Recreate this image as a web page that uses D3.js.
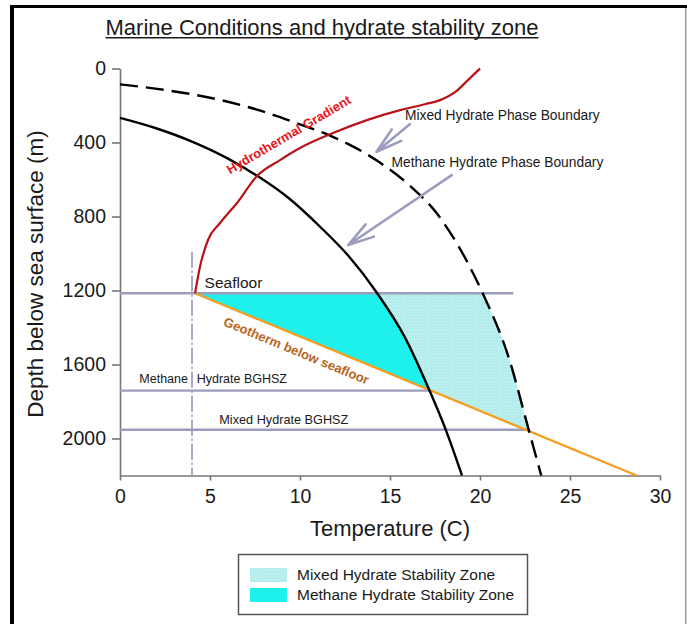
<!DOCTYPE html>
<html>
<head>
<meta charset="utf-8">
<script src="https://cdn.jsdelivr.net/npm/d3@7"></script>
<style>
  html, body { margin: 0; padding: 0; background: #fff; }
  svg { display: block; }
</style>
</head>
<body>
<svg id="chart" width="687" height="624"></svg>
<script>
// ---- data: [temperature (°C), depth below sea surface (m)] ----
const tempTicks = [0, 5, 10, 15, 20, 25, 30];
const depthTicks = [0, 400, 800, 1200, 1600, 2000];

const methanePhaseBoundary = [
  [0, 267], [2, 323], [4, 395], [6, 487], [7.6, 579], [9.4, 703], [11.1, 854],
  [12.7, 1014], [14.3, 1216], [15.8, 1448], [17.2, 1742], [18.1, 1953], [19, 2200]
];
const mixedPhaseBoundary = [
  [0, 86], [2.5, 116], [5, 158], [7.8, 228], [9.8, 295], [11.7, 364], [14.4, 506],
  [16.1, 633], [17.6, 783], [18.7, 943], [20.15, 1215], [21.6, 1564], [22.7, 1951],
  [23.4, 2200]
];
const hydrothermalGradient = [
  [4.17, 1215], [4.44, 1073], [4.89, 927], [5.56, 835], [6.5, 727], [7.61, 581],
  [8.89, 495], [10.0, 430], [11.83, 349], [13.72, 279], [15.56, 225], [16.94, 193],
  [17.78, 171], [18.61, 128], [19.33, 63], [20.0, 0]
];
const geotherm = [[4.17, 1215], [28.7, 2200]];

// horizontal reference depths and how far right each line runs
const horizonNames = ["Seafloor", "Methane Hydrate BGHSZ", "Mixed Hydrate BGHSZ"];
const horizonDepths = [1215, 1741, 1953];
const horizonEndTemps = [21.85, 17.2, 22.7];

// bottom-water temperature marker
const bottomWaterTemp = 4;
const bottomWaterTop = 990;

// callouts: label, text anchor (T, d), arrow tail (T, d), arrow tip (T, d)
const calloutLabels = ["Mixed Hydrate Phase Boundary", "Methane Hydrate Phase Boundary"];
const calloutTextAt = [[15.83, 280], [15.09, 535]];
const calloutTails = [[16.1, 301], [18.43, 576]];
const calloutTips = [[14.25, 450], [12.68, 954]];

const legendLabels = ["Mixed Hydrate Stability Zone", "Methane Hydrate Stability Zone"];

// ---- layout ----
const FONT = "Arial, 'Liberation Sans', Helvetica, sans-serif";
const svg = d3.select("#chart").attr("font-family", FONT);
const x = d3.scaleLinear().domain([0, 30]).range([120, 660]);
const y = d3.scaleLinear().domain([0, 2200]).range([68.5, 475.5]);

const lineColor = "#9c9cbe";
const axisColor = "#767676";

const defs = svg.append("defs");
const pat = defs.append("pattern")
  .attr("id", "mixedDots").attr("patternUnits", "userSpaceOnUse")
  .attr("width", 3).attr("height", 3);
pat.append("rect").attr("width", 3).attr("height", 3).attr("fill", "#aeeceb");
pat.append("rect").attr("width", 1).attr("height", 1).attr("fill", "#def7f6");
pat.append("rect").attr("x", 1.5).attr("y", 1.5).attr("width", 1).attr("height", 1).attr("fill", "#d2f4f3");

// region below the seafloor and above the geotherm
const g0 = geotherm[0], g1 = geotherm[1];
defs.append("clipPath").attr("id", "zoneClip")
  .append("path")
  .attr("d", `M${x(g0[0])},${y(g0[1])}L${x(g1[0])},${y(g0[1])}L${x(g1[0])},${y(g1[1])}Z`);

// frame
svg.append("rect").attr("x", 10).attr("y", 5).attr("width", 4).attr("height", 619).attr("fill", "#000");
svg.append("rect").attr("x", 10).attr("y", 5).attr("width", 677).attr("height", 3).attr("fill", "#000");
svg.append("rect").attr("x", 685).attr("y", 8).attr("width", 1.5).attr("height", 616).attr("fill", "#9a9a9a");

// title
const title = svg.append("text")
  .attr("x", 322).attr("y", 34.5).attr("text-anchor", "middle")
  .attr("font-size", 22).attr("fill", "#1a1a1a")
  .text("Marine Conditions and hydrate stability zone");
const tb = title.node().getBBox();
svg.append("line").attr("x1", tb.x).attr("x2", tb.x + tb.width)
  .attr("y1", 37.8).attr("y2", 37.8).attr("stroke", "#1a1a1a").attr("stroke-width", 1.4);

// stability zone fills
const below = d3.area().curve(d3.curveMonotoneX)
  .x(d => x(d[0])).y0(d => y(d[1])).y1(y(2200));
const zones = svg.append("g").attr("clip-path", "url(#zoneClip)");
zones.append("path").datum(mixedPhaseBoundary).attr("d", below).attr("fill", "url(#mixedDots)");
zones.append("path").datum(methanePhaseBoundary).attr("d", below).attr("fill", "#1ef0ec");

// axes
const xAxis = svg.append("g").attr("transform", `translate(0,${y(2200)})`)
  .call(d3.axisBottom(x).tickValues(tempTicks).tickFormat(d3.format("d"))
    .tickSize(5).tickPadding(9).tickSizeOuter(0));
const yAxis = svg.append("g").attr("transform", `translate(${x(0)},0)`)
  .call(d3.axisLeft(y).tickValues(depthTicks).tickFormat(d3.format("d"))
    .tickSize(8).tickPadding(6).tickSizeOuter(0));
[xAxis, yAxis].forEach(a => {
  a.attr("font-family", null).attr("font-size", 19.5);
  a.select(".domain").attr("stroke", axisColor).attr("stroke-width", 1.6);
  a.selectAll(".tick line").attr("stroke", axisColor).attr("stroke-width", 1.6);
  a.selectAll(".tick text").attr("fill", "#1a1a1a");
});

svg.append("text").attr("x", 390).attr("y", 536).attr("text-anchor", "middle")
  .attr("font-size", 22).attr("fill", "#1a1a1a").text("Temperature (C)");
svg.append("text").attr("transform", "translate(43,274) rotate(-90)")
  .attr("text-anchor", "middle").attr("font-size", 22.5).attr("fill", "#1a1a1a")
  .text("Depth below sea surface (m)");

// bottom-water temperature marker (dash-dot)
svg.append("line")
  .attr("x1", x(bottomWaterTemp)).attr("x2", x(bottomWaterTemp))
  .attr("y1", y(bottomWaterTop)).attr("y2", y(2200))
  .attr("stroke", "#8f8fb0").attr("stroke-width", 1.5)
  .attr("stroke-dasharray", "16,3,2,3");

// horizontal reference lines
horizonDepths.forEach((d, i) => {
  svg.append("line")
    .attr("x1", x(0)).attr("x2", x(horizonEndTemps[i]))
    .attr("y1", y(d)).attr("y2", y(d))
    .attr("stroke", lineColor).attr("stroke-width", 2.4);
});

// curves
const line = d3.line().curve(d3.curveMonotoneX).x(d => x(d[0])).y(d => y(d[1]));
svg.append("path").datum(geotherm).attr("d", d3.line().x(d => x(d[0])).y(d => y(d[1])))
  .attr("fill", "none").attr("stroke", "#f59d1e").attr("stroke-width", 2.3);
svg.append("path").datum(methanePhaseBoundary).attr("d", line)
  .attr("fill", "none").attr("stroke", "#000").attr("stroke-width", 2.4);
svg.append("path").datum(mixedPhaseBoundary).attr("d", line)
  .attr("fill", "none").attr("stroke", "#000").attr("stroke-width", 2.4)
  .attr("stroke-dasharray", "18,8");
svg.append("path").datum(hydrothermalGradient).attr("d", line)
  .attr("fill", "none").attr("stroke", "#b81418").attr("stroke-width", 2.2);

// line labels
svg.append("text").attr("x", x(4.7)).attr("y", y(horizonDepths[0]) - 5)
  .attr("font-size", 15.5).attr("fill", "#1a1a1a").text(horizonNames[0]);
const mLabel = svg.append("text").attr("y", y(horizonDepths[1]) - 7.5)
  .attr("font-size", 12.5).attr("fill", "#1a1a1a");
mLabel.append("tspan").attr("x", 139.3).text("Methane");
mLabel.append("tspan").attr("x", 196.7).text("Hydrate BGHSZ");
svg.append("text").attr("x", 219.3).attr("y", y(horizonDepths[2]) - 6)
  .attr("font-size", 12.7).attr("fill", "#1a1a1a").text(horizonNames[2]);

// geotherm label, parallel to the line
const gAngle = Math.atan2(y(g1[1]) - y(g0[1]), x(g1[0]) - x(g0[0]));
const gx = x(6.1), gy = y(g0[1]) + (x(6.1) - x(g0[0])) * Math.tan(gAngle);
const off = 19;
svg.append("text")
  .attr("transform", `translate(${gx - off * Math.sin(gAngle)},${gy + off * Math.cos(gAngle)}) rotate(${gAngle * 180 / Math.PI})`)
  .attr("font-size", 13).attr("font-weight", "bold").attr("fill", "#b8661c")
  .text("Geotherm below seafloor");

svg.append("text")
  .attr("transform", "translate(230,174.5) rotate(-30.5)")
  .attr("font-size", 13).attr("font-weight", "bold").attr("fill", "#e8141c")
  .text("Hydrothermal Gradient");

// callouts with open arrowheads
calloutLabels.forEach((lab, i) => {
  svg.append("text").attr("x", x(calloutTextAt[i][0])).attr("y", y(calloutTextAt[i][1]))
    .attr("font-size", 13.8).attr("fill", "#1a1a1a").text(lab);
  const tx = x(calloutTips[i][0]), ty = y(calloutTips[i][1]);
  const sx = x(calloutTails[i][0]), sy = y(calloutTails[i][1]);
  const ang = Math.atan2(sy - ty, sx - tx);
  const arm = 27, spread = 16 * Math.PI / 180;
  const a1 = [tx + arm * Math.cos(ang - spread), ty + arm * Math.sin(ang - spread)];
  const a2 = [tx + arm * Math.cos(ang + spread), ty + arm * Math.sin(ang + spread)];
  svg.append("path")
    .attr("d", `M${sx},${sy}L${tx},${ty}M${a1[0]},${a1[1]}L${tx},${ty}L${a2[0]},${a2[1]}`)
    .attr("fill", "none").attr("stroke", lineColor).attr("stroke-width", 2.6)
    .attr("stroke-linecap", "round").attr("stroke-linejoin", "round");
});

// legend
const lg = svg.append("g");
lg.append("rect").attr("x", 238.5).attr("y", 554.5).attr("width", 289).attr("height", 60)
  .attr("fill", "#fff").attr("stroke", "#555").attr("stroke-width", 1.5);
const swatchFills = ["url(#mixedDots)", "#1ef0ec"];
legendLabels.forEach((lab, i) => {
  lg.append("rect").attr("x", 250).attr("y", 568 + i * 20).attr("width", 37).attr("height", 14)
    .attr("fill", swatchFills[i]);
  lg.append("text").attr("x", 297).attr("y", 580 + i * 20)
    .attr("font-size", 15.5).attr("fill", "#1a1a1a").text(lab);
});
</script>
</body>
</html>
